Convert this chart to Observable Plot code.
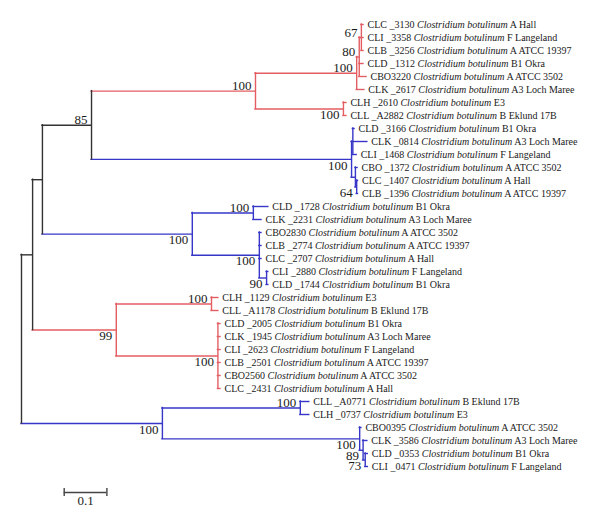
<!DOCTYPE html>
<html><head><meta charset="utf-8">
<script src="https://cdn.jsdelivr.net/npm/d3@7"></script>
<script src="https://cdn.jsdelivr.net/npm/@observablehq/plot@0.6"></script>
<style>body{margin:0;background:#fff}svg{display:block}</style>
</head><body><div id="chart"></div>
<script>
// ---- Leaves (top to bottom) ----
const leafCodes = ["CLC _3130","CLI _3358","CLB _3256","CLD _1312","CBO3220","CLK _2617","CLH _2610","CLL _A2882",
"CLD _3166","CLK _0814","CLI _1468","CBO _1372","CLC _1407","CLB _1396",
"CLD _1728","CLK _2231","CBO2830","CLB _2774","CLC _2707","CLI _2880","CLD _1744",
"CLH _1129","CLL _A1178","CLD _2005","CLK _1945","CLI _2623","CLB _2501","CBO2560","CLC _2431",
"CLL _A0771","CLH _0737","CBO0395","CLK _3586","CLD _0353","CLI _0471"];
const species = "Clostridium botulinum";
const leafStrains = ["A Hall","F Langeland","A ATCC 19397","B1 Okra","A ATCC 3502","A3 Loch Maree","E3","B Eklund 17B",
"B1 Okra","A3 Loch Maree","F Langeland","A ATCC 3502","A Hall","A ATCC 19397",
"B1 Okra","A3 Loch Maree","A ATCC 3502","A ATCC 19397","A Hall","F Langeland","B1 Okra",
"E3","B Eklund 17B","B1 Okra","A3 Loch Maree","F Langeland","A ATCC 19397","A ATCC 3502","A Hall",
"B Eklund 17B","E3","A ATCC 3502","A3 Loch Maree","B1 Okra","F Langeland"];
const leafParent = ["E3","E3","E3","E2","E2","E","F","F",
"H","H","H","I","I2","I2",
"K","K","L","L","L","M","M",
"O","O","P","P","P","P","P","P",
"R","R","S","T","U","U"];
const leafDepth = [0.801,0.801,0.801,0.801,0.808,0.803,0.761,0.761,
0.780,0.810,0.785,0.787,0.788,0.788,
0.578,0.562,0.562,0.562,0.562,0.578,0.578,
0.461,0.461,0.466,0.466,0.466,0.466,0.466,0.466,
0.674,0.674,0.796,0.810,0.811,0.811];

// ---- Internal nodes ----
const nodeIds     = ["root","A","B","C","D","E","E2","E3","F","G","H","I","I2","J","K","L","M","N","O","P","Q","R","S","T","U"];
const nodeParent  = [null,"root","A","B","C","D","E","E2","D","C","G","G","I","B","J","J","L","A","N","N","root","Q","Q","S","T"];
const nodeDepth   = [0,0.026,0.049,0.164,0.548,0.785,0.791,0.796,0.754,0.773,0.776,0.782,0.785,0.400,0.543,0.557,0.574,0.222,0.445,0.460,0.330,0.653,0.792,0.800,0.805];
const nodeSupport = [null,null,null,85,100,100,80,67,100,100,null,null,64,100,100,100,90,99,100,100,100,100,100,89,73];
const nodeClade   = ["core","core","core","core","red","red","red","red","red","blue","blue","blue","blue","blue","blue","blue","blue","red","red","red","blue","blue","blue","blue","blue"];

const scaleBarStart = 0.1, scaleBarLength = 0.1, scaleBarLabel = "0.1";

// ---- Build tree ----
const nodes = new Map();
nodeIds.forEach((id, i) => nodes.set(id, {id, parent: nodeParent[i], depth: nodeDepth[i], support: nodeSupport[i], clade: nodeClade[i], children: []}));
const leaves = leafCodes.map((c, i) => ({id: c, leaf: true, y: i, parent: leafParent[i], depth: leafDepth[i],
  label: `${c} ${species} ${leafStrains[i]}`}));
leaves.forEach(l => { nodes.get(l.parent).children.push(l); });
nodes.forEach(n => { if (n.parent) nodes.get(n.parent).children.push(n); });
function setY(n) {
  if (n.leaf) return n.y;
  const ys = n.children.map(setY);
  n.ymin = Math.min(...ys); n.ymax = Math.max(...ys);
  n.y = (n.ymin + n.ymax) / 2;
  return n.y;
}
setY(nodes.get("root"));
const internal = [...nodes.values()];
const branches = [...internal.filter(n => n.parent), ...leaves].map(n => {
  const p = nodes.get(n.parent);
  return {y: n.y, x1: p.depth, x2: n.depth, clade: n.leaf ? p.clade : n.clade};
});
const supports = internal.filter(n => n.support != null).map(n => {
  const sib = nodes.get(n.parent).children;
  const first = Math.min(...sib.map(s => s.y)) === n.y;
  return {x: n.depth, y: n.y, text: String(n.support), above: first};
});
const barY = leafCodes.length + 1;

const font = "Liberation Serif, Times New Roman, serif";
const chart = Plot.plot({
  width: 600, height: 528,
  marginLeft: 21, marginRight: 0, marginTop: 24, marginBottom: 62,
  x: {domain: [0, 1.356], axis: null},
  y: {domain: [0, leafCodes.length - 1], reverse: true, axis: null},
  color: {domain: ["core", "red", "blue"], range: ["#333333", "#e35d62", "#3636c8"]},
  style: {background: "#fff"},
  marks: [
    Plot.ruleY(branches, {y: "y", x1: "x1", x2: "x2", stroke: "clade", strokeWidth: 1.4, strokeLinecap: "square"}),
    Plot.ruleX(internal, {x: "depth", y1: "ymin", y2: "ymax", stroke: "clade", strokeWidth: 1.4, strokeLinecap: "square"}),
    Plot.text(leaves, {x: "depth", y: "y", text: "label", textAnchor: "start", dx: 4, fontSize: 10, fontFamily: font, fill: "#1a1a1a"}),
    Plot.text(supports.filter(d => d.above), {x: "x", y: "y", text: "text", textAnchor: "end", lineAnchor: "bottom", dx: -4, dy: -1, fontSize: 13, fontFamily: font, fill: "#1a1a1a"}),
    Plot.text(supports.filter(d => !d.above), {x: "x", y: "y", text: "text", textAnchor: "end", lineAnchor: "top", dx: -4, dy: 1, fontSize: 13, fontFamily: font, fill: "#1a1a1a"}),
    Plot.ruleY([barY], {x1: scaleBarStart, x2: scaleBarStart + scaleBarLength, stroke: "#444", strokeWidth: 1.4}),
    Plot.ruleX([scaleBarStart, scaleBarStart + scaleBarLength], {y1: barY - 0.3, y2: barY + 0.3, stroke: "#444", strokeWidth: 1.4}),
    Plot.text([scaleBarLabel], {x: scaleBarStart + scaleBarLength / 2, y: barY, text: d => d, lineAnchor: "top", dy: 3, fontSize: 13, fontFamily: font, fill: "#1a1a1a"})
  ]
});
// italicise the species name inside each leaf label
d3.select(chart).selectAll("text").each(function() {
  const t = this.textContent, k = t.indexOf(species);
  if (k < 0) return;
  const s = d3.select(this);
  s.text(null);
  s.append("tspan").text(t.slice(0, k));
  s.append("tspan").attr("font-style", "italic").text(species);
  s.append("tspan").text(t.slice(k + species.length));
});
document.getElementById("chart").appendChild(chart);
</script></body></html>
